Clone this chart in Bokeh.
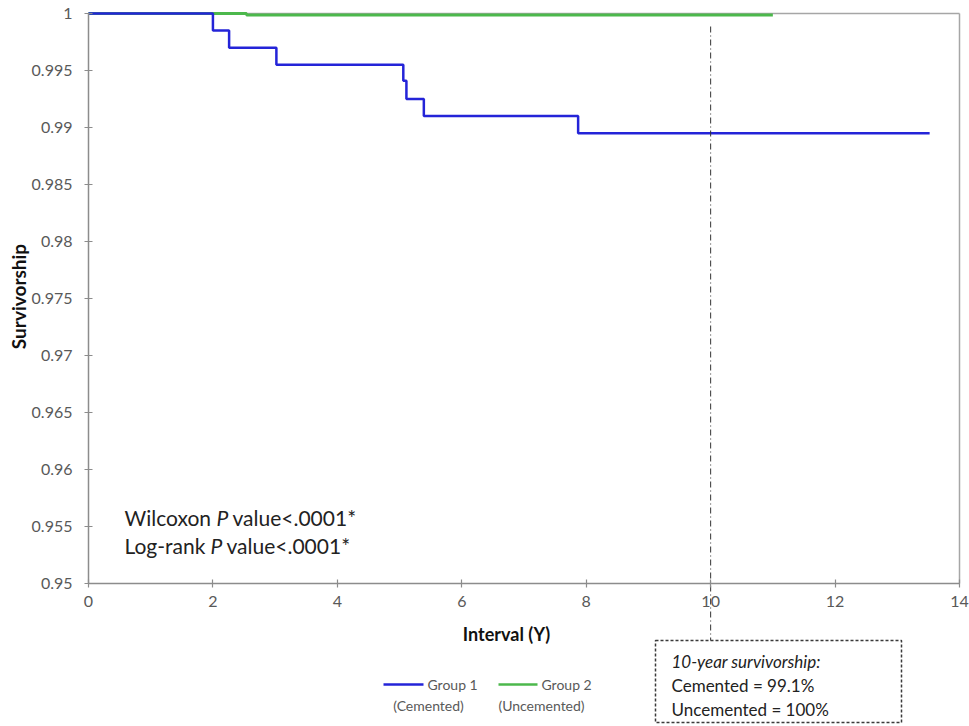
import math
from bokeh.plotting import figure
from bokeh.models import (Range1d, FixedTicker, NumeralTickFormatter, Label, BoxAnnotation)
from bokeh.embed import file_html
from bokeh.resources import INLINE

# ---------------- data ----------------
cemented_t = [0.0, 2.0, 2.26, 3.02, 5.06, 5.11, 5.39, 7.87, 13.52]
cemented_s = [1.0, 0.9985, 0.997, 0.9955, 0.9941, 0.9925, 0.991, 0.9895, 0.9895]
uncemented_t = [0.0, 2.54, 11.0]
uncemented_s = [1.0, 0.99987, 0.99987]
x_ticks = [0, 2, 4, 6, 8, 10, 12, 14]
y_ticks = [0.95, 0.955, 0.96, 0.965, 0.97, 0.975, 0.98, 0.985, 0.99, 0.995, 1.0]
marker_year = 10
stats_lines = [("Wilcoxon", "P", "value<.0001*"), ("Log-rank", "P", "value<.0001*")]
box_lines = ["10-year survivorship:", "Cemented = 99.1%", "Uncemented = 100%"]
legend_names = [("Group 1", "(Cemented)"), ("Group 2", "(Uncemented)")]

BLUE = "#2424d8"
GREEN = "#4cb84c"
GREY = "#8c8c8c"
TXT = "#595959"
FONT = "Lato"

W, H = 969, 726
# plot area (pixels) of the reference
PX0, PX1, PY1, PY0 = 88, 959, 13, 583
XMIN, XMAX, YMIN, YMAX = 0, 14, 0.95, 1.0
sx = (PX1 - PX0) / (XMAX - XMIN)
sy = (PY0 - PY1) / (YMAX - YMIN)

def dx(px):
    return XMIN + (px - PX0) / sx
def dy(py):
    return YMAX - (py - PY1) / sy

p = figure(frame_width=W, frame_height=H, output_backend="svg", toolbar_location=None,
           x_range=Range1d(dx(0), dx(W)), y_range=Range1d(dy(H), dy(0)),
           min_border_left=0, min_border_right=0, min_border_top=0, min_border_bottom=0)
p.background_fill_color = "white"
p.border_fill_color = "white"
p.outline_line_color = None
p.grid.visible = False

for ax in (p.xaxis[0], p.yaxis[0]):
    ax.axis_line_color = GREY
    ax.axis_line_width = 1.5
    ax.major_tick_line_color = GREY
    ax.major_tick_line_width = 1.2
    ax.major_tick_in = 4
    ax.major_tick_out = 4
    ax.minor_tick_line_color = None
    ax.major_label_text_font = FONT
    ax.major_label_text_font_size = "16px"
    ax.major_label_text_color = TXT

p.xaxis.ticker = FixedTicker(ticks=x_ticks)
p.yaxis.ticker = FixedTicker(ticks=y_ticks)
p.yaxis.formatter = NumeralTickFormatter(format="0.[000]")
p.xaxis.fixed_location = YMIN
p.yaxis.fixed_location = XMIN
p.xaxis.bounds = (XMIN, XMAX)
p.yaxis.bounds = (YMIN, YMAX)
p.xaxis.major_label_standoff = 8
p.yaxis.major_label_standoff = 12

# axis titles
p.add_layout(Label(x=dx(506), y=dy(633), text="Interval (Y)", text_font=FONT,
                   text_font_size="18px", text_font_style="bold", text_color="#111111",
                   text_align="center", text_baseline="middle"))
p.add_layout(Label(x=dx(18), y=dy(296), text="Survivorship", text_font=FONT,
                   text_font_size="19px", text_font_style="bold", text_color="#111111",
                   text_align="center", text_baseline="middle", angle=math.pi / 2))

# top and right border of the plot area
p.segment(x0=[XMIN, XMAX], y0=[YMAX, YMIN], x1=[XMAX, XMAX], y1=[YMAX, YMAX],
          line_color="#a6a6a6", line_width=1.5)

# curves
p.step(uncemented_t, uncemented_s, mode="after", line_color=GREEN, line_width=3)
p.step(cemented_t, cemented_s, mode="after", line_color=BLUE, line_width=2.5)

# vertical dash-dot marker at 10 years, extends down to the box
p.segment(x0=[marker_year], y0=[dy(26)], x1=[marker_year], y1=[dy(640)],
          line_color="#333333", line_width=1, line_dash="6 3 1 3")

# statistics text
stat_pos = [(124, 216, 232, 517), (124, 210, 226, 545)]
for (a, b, c), (xa, xb, xc, yy) in zip(stats_lines, stat_pos):
    for txt, xx, style in ((a, xa, "normal"), (b, xb, "italic"), (c, xc, "normal")):
        p.add_layout(Label(x=dx(xx), y=dy(yy), text=txt, text_font=FONT, text_font_size="21px",
                           text_font_style=style, text_color="#222222", text_baseline="middle"))

# legend drawn below the axis
leg = [(BLUE, 383, 423, 427, 428), (GREEN, 498, 537, 541, 541)]
for (col, x1, x2, xt, xc), (n1, n2) in zip(leg, legend_names):
    p.line([dx(x1), dx(x2)], [dy(684), dy(684)], line_color=col, line_width=2.5)
    p.add_layout(Label(x=dx(xt), y=dy(684), text=n1, text_font=FONT, text_font_size="14px",
                       text_color=TXT, text_baseline="middle"))
    p.add_layout(Label(x=dx(xc), y=dy(705), text=n2, text_font=FONT, text_font_size="14px",
                       text_color=TXT, text_baseline="middle", text_align="center"))

# annotation box
p.add_layout(BoxAnnotation(left=dx(655), right=dx(901), top=dy(640), bottom=dy(722),
                           fill_alpha=0, line_color="#3a3a3a", line_alpha=1.0, line_width=1.5,
                           line_dash="3 2", editable=False))
for i, t in enumerate(box_lines):
    p.add_layout(Label(x=dx(671), y=dy(661 + 24 * i), text=t, text_font=FONT,
                       text_font_size="17px", text_color="#222222", text_baseline="middle",
                       text_font_style="italic" if i == 0 else "normal"))

open("out.html", "w").write(file_html(p, INLINE))
